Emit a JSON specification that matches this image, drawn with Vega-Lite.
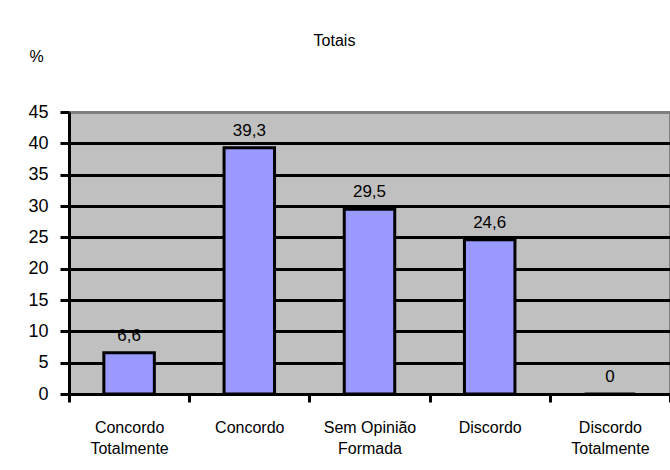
{
  "$schema": "https://vega.github.io/schema/vega-lite/v6.json",
  "autosize": "none",
  "width": 601,
  "height": 282,
  "padding": {"left": 69, "top": 112, "right": 0, "bottom": 76},
  "background": "white",
  "title": {
    "text": "Totais",
    "anchor": "middle",
    "frame": "group",
    "dx": -35,
    "offset": -1,
    "fontSize": 16,
    "fontWeight": "normal",
    "font": "Liberation Sans",
    "color": "black"
  },
  "data": {
    "values": [
      {"resposta": "Concordo Totalmente", "pct": 6.6},
      {"resposta": "Concordo", "pct": 39.3},
      {"resposta": "Sem Opinião Formada", "pct": 29.5},
      {"resposta": "Discordo", "pct": 24.6},
      {"resposta": "Discordo Totalmente", "pct": 0}
    ]
  },
  "encoding": {
    "x": {
      "field": "resposta",
      "type": "nominal",
      "sort": null,
      "scale": {"paddingInner": 0, "paddingOuter": 0},
      "axis": {
        "title": null,
        "labelAngle": 0,
        "labelFontSize": 16,
        "labelLineHeight": 21,
        "labelPadding": 17,
        "labelExpr": "datum.value == null ? '' : datum.value == 'Sem Opinião Formada' ? ['Sem Opinião', 'Formada'] : split(datum.value, ' ')",
        "tickBand": "extent",
        "tickSize": 8,
        "tickWidth": 3,
        "tickColor": "black",
        "domainColor": "black",
        "domainWidth": 3,
        "grid": false
      }
    },
    "y": {
      "field": "pct",
      "type": "quantitative",
      "scale": {"domain": [0, 45], "nice": false},
      "axis": {
        "title": "%",
        "titleAngle": 0,
        "titleX": -33,
        "titleY": -56,
        "titleAlign": "center",
        "titleBaseline": "middle",
        "titleFontSize": 16,
        "titleFontWeight": "normal",
        "values": [0, 5, 10, 15, 20, 25, 30, 35, 40, 45],
        "labelFontSize": 18,
        "labelPadding": 12,
        "tickSize": 9,
        "tickWidth": 3,
        "tickColor": "black",
        "domainColor": "black",
        "domainWidth": 3,
        "grid": true,
        "gridWidth": 3,
        "gridColor": {"condition": {"test": "datum.value == 45", "value": "#808080"}, "value": "black"},
        "gridOpacity": 1
      }
    }
  },
  "layer": [
    {
      "mark": {
        "type": "bar",
        "width": {"band": 0.42},
        "fill": "#9999FF",
        "stroke": "black",
        "strokeWidth": 3
      }
    },
    {
      "mark": {
        "type": "text",
        "baseline": "bottom",
        "dy": -8,
        "fontSize": 17,
        "color": "black"
      },
      "encoding": {
        "text": {"field": "pct", "type": "quantitative", "format": "~g"}
      }
    }
  ],
  "config": {
    "font": "Liberation Sans",
    "locale": {
      "number": {"decimal": ",", "thousands": ".", "grouping": [3], "currency": ["", ""]}
    },
    "view": {"fill": "#C0C0C0", "stroke": "#808080", "strokeWidth": 2},
    "axis": {"labelColor": "black", "titleColor": "black", "labelFont": "Liberation Sans", "titleFont": "Liberation Sans"}
  }
}
